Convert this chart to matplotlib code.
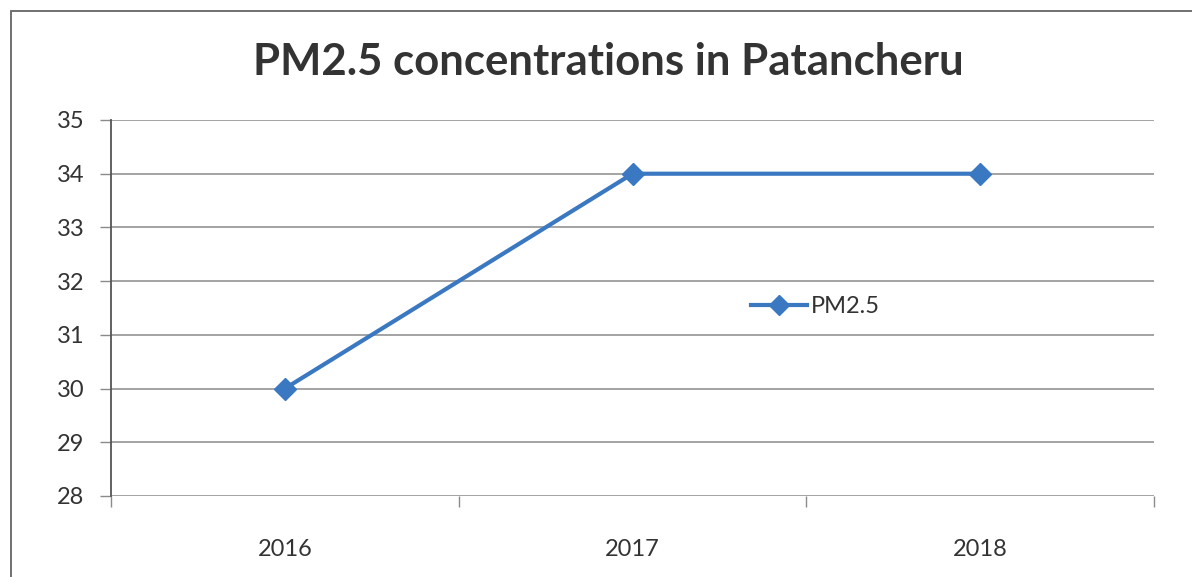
import matplotlib.pyplot as plt
from matplotlib.patches import Rectangle

# data
years = ["2016", "2017", "2018"]
pm25 = [30, 34, 34]
y_ticks = [28, 29, 30, 31, 32, 33, 34, 35]

plt.rcParams["font.family"] = ["Lato", "DejaVu Sans"]

W, H = 1192, 577
fig = plt.figure(figsize=(W / 100, H / 100), dpi=100)
ax = fig.add_axes([111 / W, 1 - 496 / H, (1154 - 111) / W, (496 - 120) / H])

x = range(len(years))
ax.plot(x, pm25, color="#3b78c2", linewidth=3, marker="D", markersize=11,
        label="PM2.5", zorder=3)

ax.set_xlim(-0.5, len(years) - 0.5)
ax.set_ylim(min(y_ticks), max(y_ticks))
ax.set_yticks(y_ticks)
ax.set_xticks(list(x))
ax.set_xticklabels(years)
ax.set_xticks([i - 0.5 for i in range(len(years) + 1)], minor=True)

ax.grid(axis="y", color="#8a8a8a", linewidth=1.1)
ax.set_axisbelow(True)
for s in ["top", "right", "bottom"]:
    ax.spines[s].set_visible(False)
ax.spines["left"].set_color("#555555")
ax.spines["left"].set_linewidth(1.3)

ax.tick_params(axis="y", length=8, width=1, color="#8a8a8a", pad=11,
               labelsize=17, labelcolor="#333333")
ax.tick_params(axis="x", which="major", length=0, pad=31, labelsize=17,
               labelcolor="#333333")
ax.tick_params(axis="x", which="minor", length=8, width=1, color="#8a8a8a")

# title sits a bit right of centre in the original
fig.text(608 / W, 1 - 62 / H, "PM2.5 concentrations in Patancheru", ha="center",
         va="center", fontsize=31.5, fontweight="bold", color="#333333")

ax.legend(loc="center left", bbox_to_anchor=(0.593, 0.503), frameon=False,
          fontsize=17, handlelength=2.4, handletextpad=0.15, markerscale=0.9,
          labelcolor="#333333")

fig.patches.append(Rectangle((11 / W, -0.05), 1.1, 1 - 11 / H + 0.05,
                             transform=fig.transFigure, fill=False,
                             edgecolor="#666666", linewidth=1.3))

fig.savefig("out.png", dpi=100)
